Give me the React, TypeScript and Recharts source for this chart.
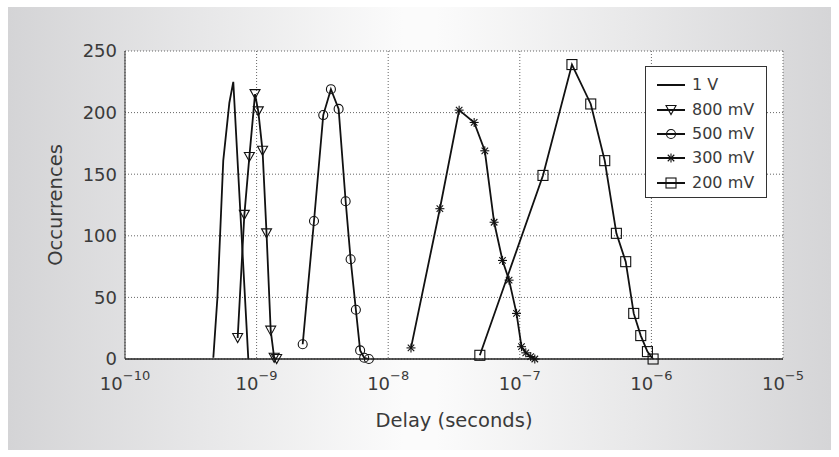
import { LineChart, Line, XAxis, YAxis, CartesianGrid } from 'recharts';

// delay (s) / occurrence counts
const DELAY_1V = [4.69e-10, 5.04e-10, 5.58e-10, 6.21e-10, 6.65e-10, 8.65e-10];
const COUNT_1V = [1, 50, 161, 208, 225, 0];

const DELAY_800 = [7.18e-10, 8.07e-10, 8.81e-10, 9.73e-10, 1.03e-9, 1.11e-9, 1.19e-9, 1.28e-9, 1.36e-9, 1.42e-9];
const COUNT_800 = [17, 117, 164, 215, 201, 169, 102, 23, 1, 0];

const DELAY_500 = [2.24e-9, 2.73e-9, 3.21e-9, 3.67e-9, 4.2e-9, 4.75e-9, 5.18e-9, 5.68e-9, 6.12e-9, 6.57e-9, 7.13e-9];
const COUNT_500 = [12, 112, 198, 219, 203, 128, 81, 40, 7, 1, 0];

const DELAY_300 = [1.49e-8, 2.47e-8, 3.46e-8, 4.5e-8, 5.42e-8, 6.38e-8, 7.39e-8, 8.29e-8, 9.44e-8, 1.03e-7, 1.11e-7, 1.21e-7, 1.3e-7];
const COUNT_300 = [9, 122, 202, 192, 169, 111, 80, 64, 37, 10, 5, 2, 0];

const DELAY_200 = [4.97e-8, 1.5e-7, 2.49e-7, 3.46e-7, 4.42e-7, 5.42e-7, 6.38e-7, 7.34e-7, 8.3e-7, 9.33e-7, 1.03e-6];
const COUNT_200 = [3, 149, 239, 207, 161, 102, 79, 37, 19, 6, 0];

const SERIES_NAMES = ['1 V', '800 mV', '500 mV', '300 mV', '200 mV'];
const X_TICKS = [1e-10, 1e-9, 1e-8, 1e-7, 1e-6, 1e-5];
const Y_TICKS = [0, 50, 100, 150, 200, 250];

const FONT = '"DejaVu Sans", sans-serif';
const INK = '#111';
const TEXT = '#3a3a3a';

type MarkerKind = 'none' | 'tri' | 'circle' | 'star' | 'square';

const zip = (xs: number[], ys: number[]) => xs.map((x, i) => ({ x, y: ys[i] }));

const SERIES: { name: string; data: { x: number; y: number }[]; marker: MarkerKind }[] = [
  { name: SERIES_NAMES[0], data: zip(DELAY_1V, COUNT_1V), marker: 'none' },
  { name: SERIES_NAMES[1], data: zip(DELAY_800, COUNT_800), marker: 'tri' },
  { name: SERIES_NAMES[2], data: zip(DELAY_500, COUNT_500), marker: 'circle' },
  { name: SERIES_NAMES[3], data: zip(DELAY_300, COUNT_300), marker: 'star' },
  { name: SERIES_NAMES[4], data: zip(DELAY_200, COUNT_200), marker: 'square' },
];

function Marker({ kind, cx, cy }: { kind: MarkerKind; cx: number; cy: number }) {
  const common = { stroke: INK, strokeWidth: 1.1, fill: 'none' };
  if (kind === 'tri') {
    return <polygon points={`${cx - 5},${cy - 4.5} ${cx + 5},${cy - 4.5} ${cx},${cy + 4.5}`} {...common} />;
  }
  if (kind === 'circle') return <circle cx={cx} cy={cy} r={4.5} {...common} />;
  if (kind === 'square') return <rect x={cx - 5} y={cy - 5} width={10} height={10} {...common} />;
  if (kind === 'star') {
    const r = 4.5;
    const d = r * 0.72;
    return (
      <g {...common}>
        <line x1={cx - r} y1={cy} x2={cx + r} y2={cy} />
        <line x1={cx} y1={cy - r} x2={cx} y2={cy + r} />
        <line x1={cx - d} y1={cy - d} x2={cx + d} y2={cy + d} />
        <line x1={cx - d} y1={cy + d} x2={cx + d} y2={cy - d} />
      </g>
    );
  }
  return null;
}

const PowerTick = ({ x, y, payload }: any) => {
  const exp = Math.round(Math.log10(payload.value));
  return (
    <text x={x} y={y + 31} textAnchor="middle" fill={TEXT} fontFamily={FONT} fontSize={18}>
      <tspan>10</tspan>
      <tspan dy={-10} fontSize={13}>{`\u2212${Math.abs(exp)}`}</tspan>
    </text>
  );
};

const CountTick = ({ x, y, payload }: any) => (
  <text x={x - 8} y={y} dy="0.36em" textAnchor="end" fill={TEXT} fontFamily={FONT} fontSize={18}>
    {payload.value}
  </text>
);

// legend drawn as a box over the plot, like the original figure
const LegendBox = () => (
  <div
    style={{
      position: 'absolute',
      left: 645,
      top: 66,
      width: 122,
      height: 132,
      border: '1px solid #333',
      background: '#fff',
      fontFamily: FONT,
      fontSize: 16,
      color: TEXT,
      paddingTop: 6,
      boxSizing: 'border-box',
    }}
  >
    {SERIES.map((s) => (
      <div key={s.name} style={{ display: 'flex', alignItems: 'center', height: 24.4 }}>
        <svg width={46} height={14} style={{ flex: 'none' }}>
          <line x1={11} y1={7} x2={39} y2={7} stroke={INK} strokeWidth={2} />
          <Marker kind={s.marker} cx={25} cy={7} />
        </svg>
        <span style={{ lineHeight: '16px' }}>{s.name}</span>
      </div>
    ))}
  </div>
);

export default function App() {
  return (
    <div style={{ position: 'absolute', left: 0, top: 0, width: 839, height: 457, background: '#fff' }}>
      <div
        style={{
          position: 'absolute',
          left: 8,
          top: 7,
          width: 823,
          height: 443,
          background: 'linear-gradient(to right, #d4d4d6 0%, #fbfbfb 48%, #fbfbfb 52%, #d5d5d7 100%)',
        }}
      />
      <LineChart
        width={839}
        height={457}
        margin={{ top: 51, right: 56, bottom: 0, left: 0 }}
        style={{ position: 'absolute', left: 0, top: 0 }}
      >
        <CartesianGrid
          fill="#fff"
          stroke="#666"
          strokeDasharray="1 2"
          horizontalValues={Y_TICKS}
          verticalValues={X_TICKS}
        />
        <XAxis
          dataKey="x"
          type="number"
          scale="log"
          domain={[1e-10, 1e-5]}
          ticks={X_TICKS}
          allowDataOverflow
          height={98}
          tickLine={false}
          tickSize={0}
          tickMargin={0}
          axisLine={{ stroke: '#222', strokeWidth: 1.3 }}
          tick={<PowerTick />}
          interval={0}
          label={{
            content: () => (
              <text x={454} y={427} textAnchor="middle" fill={TEXT} fontFamily={FONT} fontSize={19.5}>
                Delay (seconds)
              </text>
            ),
          }}
        />
        <YAxis
          dataKey="y"
          type="number"
          domain={[0, 250]}
          ticks={Y_TICKS}
          width={125}
          tickLine={false}
          tickSize={0}
          tickMargin={0}
          axisLine={{ stroke: '#333', strokeWidth: 1 }}
          tick={<CountTick />}
          interval={0}
          label={{
            content: () => (
              <text
                x={62}
                y={205}
                transform="rotate(-90, 62, 205)"
                textAnchor="middle"
                fill={TEXT}
                fontFamily={FONT}
                fontSize={19.5}
              >
                Occurrences
              </text>
            ),
          }}
        />
        {SERIES.map((s) => (
          <Line
            key={s.name}
            name={s.name}
            data={s.data}
            dataKey="y"
            type="linear"
            stroke={INK}
            strokeWidth={1.8}
            isAnimationActive={false}
            dot={
              s.marker === 'none'
                ? false
                : (p: any) => <Marker key={`${s.name}-${p.index}`} kind={s.marker} cx={p.cx} cy={p.cy} />
            }
            activeDot={false}
          />
        ))}
      </LineChart>
      <LegendBox />
    </div>
  );
}
